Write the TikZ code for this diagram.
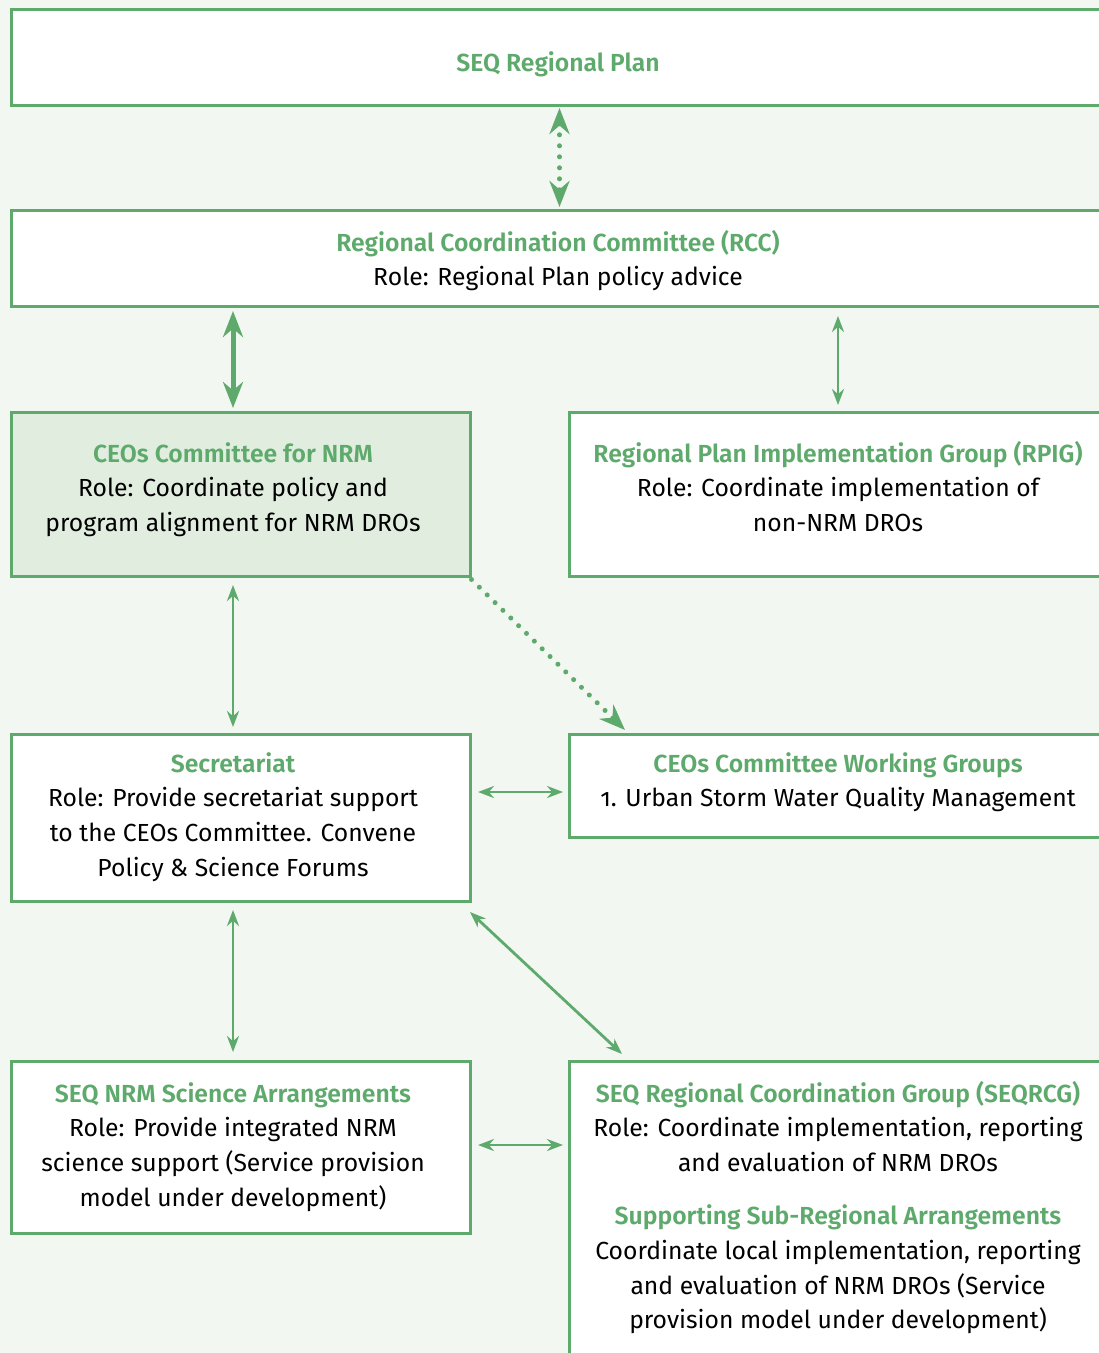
\documentclass[tikz,border=0pt]{standalone}
\usepackage{fontspec}
\setmainfont{Fira Sans}[BoldFont={Fira Sans SemiBold}]
\usetikzlibrary{arrows.meta}
\definecolor{grn}{RGB}{94,170,108}
\definecolor{bgc}{RGB}{242,247,241}
\definecolor{lgf}{RGB}{225,237,223}
\begin{document}
\begin{tikzpicture}[x=1pt,y=-1pt,
  box/.style={draw=grn, line width=3pt, fill=white, inner sep=0pt, outer sep=1.5pt},
  txt/.style={align=center, inner sep=0pt, anchor=base, text=black, font=\fontsize{24.7}{34.8}\selectfont},
  thinarr/.style={draw=grn, line width=2.8pt, {Stealth[length=16pt,width=12pt]}-{Stealth[length=16pt,width=12pt]}},
  thickarr/.style={draw=grn, line width=5pt, {Stealth[length=26pt,width=20pt]}-{Stealth[length=26pt,width=20pt]}},
  dotline/.style={draw=grn, line width=5pt, line cap=round, dash pattern=on 0pt off 11pt}
]
\fill[bgc] (0,0) rectangle (1099,1353);
\useasboundingbox (0,0) rectangle (1099,1353);
\begin{scope}
\clip (0,0) rectangle (1099,1353);
% boxes
\node[box, minimum width=1097pt, minimum height=96pt] (plan) at (559.5,57) {};
\node[box, minimum width=1097pt, minimum height=96pt] (rcc) at (559.5,258) {};
\node[box, fill=lgf, minimum width=459pt, minimum height=164pt] (ceo) at (240.5,494) {};
\node[box, minimum width=541pt, minimum height=164pt] (rpig) at (839.5,494) {};
\node[box, minimum width=459pt, minimum height=167pt] (sec) at (240.5,817.5) {};
\node[box, minimum width=541pt, minimum height=103pt] (wg) at (839.5,785.5) {};
\node[box, minimum width=459pt, minimum height=172pt] (sci) at (240.5,1147) {};
\node[box, minimum width=541pt, minimum height=309pt] (rcg) at (839.5,1215.5) {};
% texts (anchor = baseline of the last line)
\node[txt] (planT) at (558,71) {\textcolor{grn}{\bfseries SEQ Regional Plan}};
\node[txt] (rccT) at (558,285.8) {\textcolor{grn}{\bfseries Regional Coordination Committee (RCC)}\\Role: Regional Plan policy advice};
\node[txt] (ceoT) at (233,531.6) {\textcolor{grn}{\bfseries CEOs Committee for NRM}\\Role: Coordinate policy and\\program alignment for NRM DROs};
\node[txt] (rpigT) at (838,531.6) {\textcolor{grn}{\bfseries Regional Plan Implementation Group (RPIG)}\\Role: Coordinate implementation of\\non-NRM DROs};
\node[txt] (secT) at (233,876.4) {\textcolor{grn}{\bfseries Secretariat}\\Role: Provide secretariat support\\to the CEOs Committee. Convene\\Policy \& Science Forums};
\node[txt] (wgT) at (838,806.8) {\textcolor{grn}{\bfseries CEOs Committee Working Groups}\\{\addfontfeatures{Numbers=OldStyle}1.} Urban Storm Water Quality Management};
\node[txt] (sciT) at (233,1206.4) {\textcolor{grn}{\bfseries SEQ NRM Science Arrangements}\\Role: Provide integrated NRM\\science support (Service provision\\model under development)};
\node[txt] (rcgT) at (838,1328.8) {\textcolor{grn}{\bfseries SEQ Regional Coordination Group (SEQRCG)}\\Role: Coordinate implementation, reporting\\and evaluation of NRM DROs\\[18pt]\textcolor{grn}{\bfseries Supporting Sub-Regional Arrangements}\\Coordinate local implementation, reporting\\and evaluation of NRM DROs (Service\\provision model under development)};
% connectors
\draw[dotline, {Stealth[length=26pt,width=20pt]}-{Stealth[length=26pt,width=20pt]}] ([yshift=-1.5pt]plan.south) -- ([yshift=1.5pt]rcc.north);
\draw[thickarr] ([yshift=-3.5pt]rcc.south -| ceoT.north) -- ([yshift=2.5pt]ceo.north -| ceoT.north);
\draw[thinarr] ([yshift=-8.5pt]rcc.south -| rpigT.north) -- ([yshift=5.5pt]rpig.north -| rpigT.north);
\draw[thinarr] ([yshift=-7.5pt]ceo.south -| ceoT.north) -- ([yshift=5.5pt]sec.north -| ceoT.north);
\draw[thinarr] ([yshift=-7.5pt]sec.south -| ceoT.north) -- ([yshift=7.5pt]sci.north -| ceoT.north);
\draw[thinarr] ([xshift=6.5pt,yshift=-6.5pt]sec.east |- wg.west) -- ([xshift=-4.5pt,yshift=-6.5pt]wg.west);
\draw[thinarr] ([xshift=6.5pt,yshift=2pt]sci.east) -- ([xshift=-4.5pt,yshift=2pt]sci.east -| rcg.west);
\draw[thinarr] ([xshift=-1.5pt,yshift=-9.5pt]sec.south east) -- ([xshift=54.5pt,yshift=5.5pt]rcg.north west);
\draw[dotline, -{Stealth[length=26pt,width=20pt]}] ([yshift=-2pt]ceo.south east) -- ([xshift=57.5pt,yshift=2.5pt]wg.north west);
\end{scope}
\end{tikzpicture}
\end{document}
